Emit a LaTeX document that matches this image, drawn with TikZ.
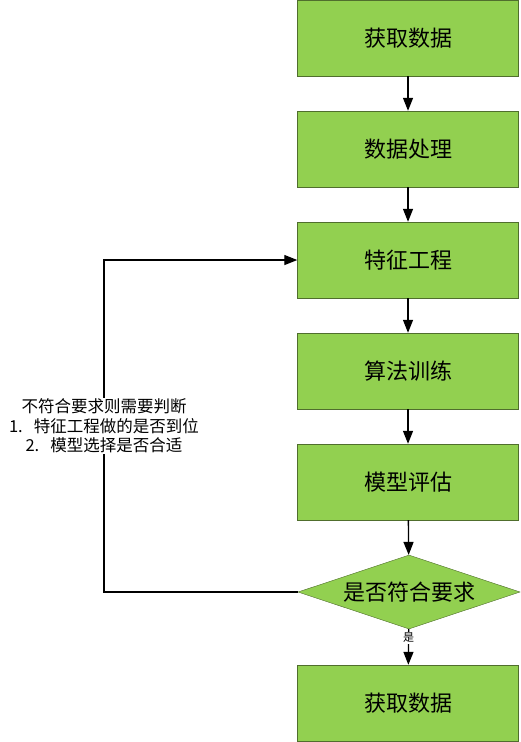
\documentclass[tikz,border=0pt]{standalone}
\usepackage{fontspec}
\setmainfont{Noto Sans CJK SC}
\usetikzlibrary{shapes.geometric,arrows.meta}
\definecolor{boxgreen}{RGB}{146,208,80}
\definecolor{boxline}{RGB}{80,110,45}

\begin{document}
\begin{tikzpicture}[x=1pt,y=1pt,
  box/.style={draw=boxline,fill=boxgreen,minimum width=221pt,minimum height=76pt,inner sep=0pt,font=\fontsize{22}{25}\selectfont},
  judge/.style={diamond,shape aspect=3,draw=boxline,fill=boxgreen,minimum width=222pt,minimum height=74pt,inner sep=0pt,font=\fontsize{22}{25}\selectfont},
  arrow/.style={line width=1.3pt,-{Triangle[length=13pt,width=10pt]}}]

\useasboundingbox (0,0) rectangle (520,-742);

\node[box] (get)     at (408,-38)  {获取数据};
\node[box] (process) at (408,-149) {数据处理};
\node[box] (feature) at (408,-260) {特征工程};
\node[box] (train)   at (408,-371) {算法训练};
\node[box] (eval)    at (408,-482) {模型评估};
\node[judge] (check) at (409,-592) {是否符合要求};
\node[box] (result)  at (408,-703) {获取数据};

\draw [arrow] (get)     -- (process);
\draw [arrow] (process) -- (feature);
\draw [arrow] (feature) -- (train);
\draw [arrow] (train)   -- (eval);
\draw [arrow] (eval)    -- (check);
\draw [arrow] (check)   -- node[fill=white,inner sep=1pt,pos=0.25,font=\fontsize{11}{13}\selectfont] {是} (result);

\coordinate (bend) at (104,-592);
\draw [arrow] (check.west) -- (bend) |- node[pos=0.25,fill=white,align=center,inner sep=1pt,
  font=\fontsize{16.5}{19.5}\selectfont] {不符合要求则需要判断\\1.\ \ \ 特征工程做的是否到位\\2.\ \ \ 模型选择是否合适} (feature.west);

\end{tikzpicture}
\end{document}
